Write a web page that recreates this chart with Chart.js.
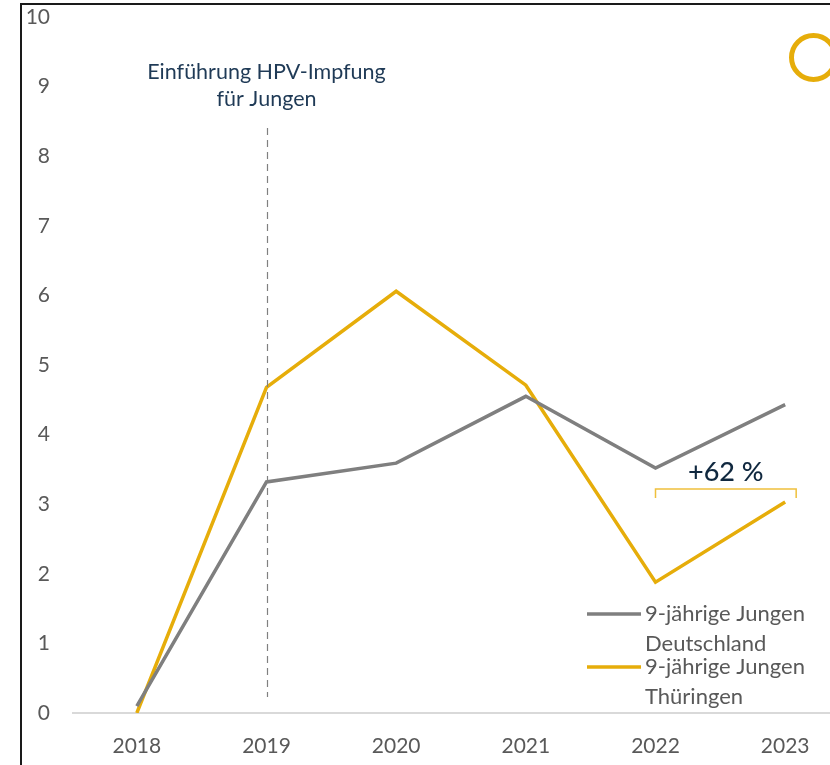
<!DOCTYPE html>
<html>
<head>
<meta charset="utf-8">
<script src="https://cdn.jsdelivr.net/npm/chart.js@4.4.1/dist/chart.umd.min.js"></script>
<style>
  html, body { margin: 0; padding: 0; background: #fff; overflow: hidden; }
  #wrap { position: absolute; left: 0; top: 0; width: 860px; height: 765px; }
</style>
</head>
<body>
<div id="wrap"><canvas id="c" width="860" height="765"></canvas></div>
<script>
const years = ['2018', '2019', '2020', '2021', '2022', '2023'];
const deutschland = [0.1, 3.32, 3.59, 4.55, 3.52, 4.43];
const thueringen = [0.0, 4.68, 6.06, 4.71, 1.88, 3.03];
const yTicks = [0, 1, 2, 3, 4, 5, 6, 7, 8, 9, 10];
const seriesLabels = [['9-jährige Jungen', 'Deutschland'], ['9-jährige Jungen', 'Thüringen']];
const annotationText = ['Einführung HPV-Impfung', 'für Jungen'];
const annotationYear = '2019';
const changeText = '+62 %';
const changeFrom = '2022';
const changeTo = '2023';

const GRAY = '#7f7f7f';
const GOLD = '#e6ad0a';
const FONT = 'Lato, "Open Sans", sans-serif';

const decor = {
  id: 'decor',
  afterDatasetsDraw(chart) {
    const ctx = chart.ctx;
    const xs = chart.scales.x;
    ctx.save();
    // dashed vertical line
    const xa = xs.getPixelForValue(years.indexOf(annotationYear));
    ctx.strokeStyle = '#808080';
    ctx.lineWidth = 1.2;
    ctx.setLineDash([7, 5]);
    ctx.beginPath();
    ctx.moveTo(Math.round(xa) + 0.5, 128);
    ctx.lineTo(Math.round(xa) + 0.5, 697);
    ctx.stroke();
    ctx.setLineDash([]);
    // annotation text
    ctx.fillStyle = '#1f3a56';
    ctx.font = '21.5px ' + FONT;
    ctx.textAlign = 'center';
    ctx.textBaseline = 'middle';
    ctx.fillText(annotationText[0], xa, 72);
    ctx.fillText(annotationText[1], xa, 99);
    // bracket
    const x1 = xs.getPixelForValue(years.indexOf(changeFrom));
    const x2 = xs.getPixelForValue(years.indexOf(changeTo)) + 11;
    ctx.strokeStyle = '#efc03c';
    ctx.lineWidth = 1.5;
    ctx.beginPath();
    ctx.moveTo(x1, 498);
    ctx.lineTo(x1, 489);
    ctx.lineTo(x2, 489);
    ctx.lineTo(x2, 498);
    ctx.stroke();
    ctx.fillStyle = '#10283f';
    ctx.font = '500 27px ' + FONT;
    ctx.fillText(changeText, (x1 + x2) / 2, 472);
    // legend
    const colors = [GRAY, GOLD];
    const ys = [614, 667];
    ctx.font = '22px ' + FONT;
    ctx.textAlign = 'left';
    for (let i = 0; i < 2; i++) {
      ctx.strokeStyle = colors[i];
      ctx.lineWidth = 3.5;
      ctx.beginPath();
      ctx.moveTo(587, ys[i]);
      ctx.lineTo(641, ys[i]);
      ctx.stroke();
      ctx.fillStyle = '#595959';
      ctx.fillText(seriesLabels[i][0], 645, ys[i]);
      ctx.fillText(seriesLabels[i][1], 645, ys[i] + 30);
    }
    // circle logo
    ctx.strokeStyle = GOLD;
    ctx.lineWidth = 5;
    ctx.beginPath();
    ctx.arc(813.5, 57.5, 22, 0, Math.PI * 2);
    ctx.stroke();
    // frame
    ctx.strokeStyle = '#1a1a1a';
    ctx.lineWidth = 2;
    ctx.beginPath();
    ctx.moveTo(21, 765);
    ctx.lineTo(21, 4);
    ctx.lineTo(860, 4);
    ctx.stroke();
    ctx.restore();
  }
};

new Chart(document.getElementById('c'), {
  type: 'line',
  data: {
    labels: years,
    datasets: [
      { label: seriesLabels[0].join(' '), data: deutschland, borderColor: GRAY, borderWidth: 3.5, pointRadius: 0, tension: 0, borderCapStyle: 'butt' },
      { label: seriesLabels[1].join(' '), data: thueringen, borderColor: GOLD, borderWidth: 3.5, pointRadius: 0, tension: 0, borderCapStyle: 'butt' }
    ]
  },
  options: {
    responsive: false,
    animation: false,
    layout: { padding: { top: 17, right: 10, left: 0, bottom: 0 } },
    plugins: { legend: { display: false }, tooltip: { enabled: false } },
    scales: {
      x: {
        type: 'category',
        offset: true,
        grid: { display: false, drawTicks: false },
        border: { display: false },
        ticks: { color: '#595959', font: { family: FONT, size: 21 }, padding: 21, maxRotation: 0 },
        afterFit(s) { s.height = 52; }
      },
      y: {
        min: 0, max: 10,
        afterBuildTicks(s) { s.ticks = yTicks.map(v => ({ value: v })); },
        grid: {
          drawTicks: false,
          color: ctx => (ctx.tick && ctx.tick.value === 0) ? '#d9d9d9' : 'rgba(0,0,0,0)',
          lineWidth: 2
        },
        border: { display: false },
        ticks: { color: '#595959', font: { family: FONT, size: 21 }, padding: 22 },
        afterFit(s) { s.width = 72; s.paddingTop = 0; s.paddingBottom = 0; }
      }
    }
  },
  plugins: [decor]
});
</script>
</body>
</html>
